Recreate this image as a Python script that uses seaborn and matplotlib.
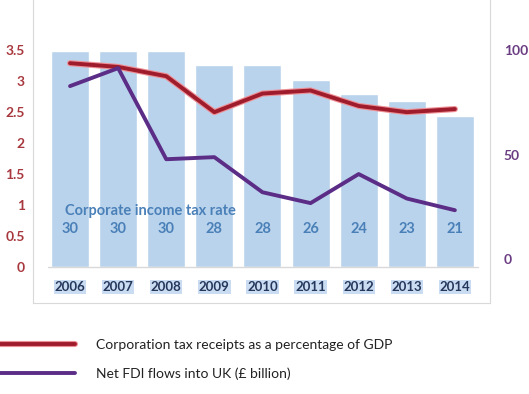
import numpy as np
import pandas as pd
import matplotlib
matplotlib.use('Agg')
import matplotlib.pyplot as plt
import matplotlib.patheffects as pe
import seaborn as sns

years = [2006, 2007, 2008, 2009, 2010, 2011, 2012, 2013, 2014]
tax_rate = [30, 30, 30, 28, 28, 26, 24, 23, 21]
receipts_gdp = [3.29, 3.23, 3.08, 2.5, 2.8, 2.85, 2.6, 2.5, 2.55]
net_fdi = [82.8, 91.4, 47.8, 48.8, 32, 26.8, 40.7, 29, 23.4]
left_ticks = [0, 0.5, 1, 1.5, 2, 2.5, 3, 3.5]
left_labels = ['0', '0.5', '1', '1.5', '2', '2.5', '3', '3.5']
right_ticks = [0, 50, 100]
bar_title = 'Corporate income tax rate'
label_receipts = 'Corporation tax receipts as a percentage of GDP'
label_fdi = 'Net FDI flows into UK (£ billion)'

df = pd.DataFrame({'year': years, 'rate': tax_rate,
                   'receipts': receipts_gdp, 'fdi': net_fdi})

sns.set_style('white')
plt.rcParams['font.family'] = ['Lato', 'DejaVu Sans']

fig = plt.figure(figsize=(5.29, 3.94), dpi=100)
ax = fig.add_axes([33 / 529, 1 - 303 / 394, 457 / 529, 303 / 394])

bar_col = '#BAD3EC'
red = '#9E1C2C'
purple = '#5B2D86'
grey = '#D9D9D9'

sns.barplot(data=df, x='year', y='rate', native_scale=True, width=0.79,
            color=bar_col, saturation=1, ax=ax, zorder=1)
ax.set_xlim(years[0] - 0.77, years[0] + 8.73)
ax.set_ylim(-5, 37.08)
ax.set_yticks([])
ax.set_xticks([])
ax.set_xlabel('')
ax.set_ylabel('')
ax.axhline(0, xmin=0.033, xmax=0.974, color=grey, lw=1, zorder=2)

for y, r in zip(years, tax_rate):
    ax.text(y, 5.3, str(r), ha='center', va='center', fontsize=10.5,
            color='#4A80B8', fontweight='bold')
    ax.text(y, -2.78, str(y), ha='center', va='center', fontsize=9.5,
            color='#25385C', fontweight='bold',
            bbox=dict(boxstyle='square,pad=0.06', fc='#C9DCF1', ec='none'))
ax.text(years[0] - 0.1, 7.8, bar_title, ha='left', va='center',
        fontsize=10.5, color='#4A80B8', fontweight='bold')

for s in ['left', 'right', 'bottom']:
    ax.spines[s].set_color(grey)
ax.spines['top'].set_visible(False)

# left axis: receipts
axl = ax.twinx()
axl.yaxis.tick_left()
sns.lineplot(data=df, x='year', y='receipts', color=red, lw=2.8, ax=axl,
             label=label_receipts, legend=False,
             path_effects=[pe.Stroke(linewidth=4.4, foreground='#EE8F96'), pe.Normal()])
axl.set_ylim(-0.58, 4.31)
axl.set_yticks(left_ticks)
axl.set_yticklabels(left_labels)
axl.tick_params(axis='y', length=0, pad=6, labelsize=10, labelcolor='#A8383E')
for t in axl.get_yticklabels():
    t.set_fontweight('bold')
axl.set_ylabel('')
axl.set_xlabel('')

# right axis: FDI
axr = ax.twinx()
sns.lineplot(data=df, x='year', y='fdi', color=purple, lw=2.8, ax=axr,
             label=label_fdi, legend=False)
axr.set_ylim(-21, 124)
axr.set_yticks(right_ticks)
axr.tick_params(axis='y', length=0, pad=10, labelsize=10, labelcolor='#6A3C82')
for t in axr.get_yticklabels():
    t.set_fontweight('bold')
axr.set_ylabel('')
axr.set_xlabel('')
axr.set_xlim(ax.get_xlim())
axl.set_xlim(ax.get_xlim())
for a in (axl, axr):
    for s in a.spines.values():
        s.set_visible(False)

h1, l1 = axl.get_legend_handles_labels()
h2, l2 = axr.get_legend_handles_labels()
leg = fig.legend(h1 + h2, l1 + l2, loc='center left',
                 bbox_to_anchor=(0.0, 1 - 359.5 / 394), frameon=False,
                 borderaxespad=0, borderpad=0, fontsize=10, handlelength=5.4,
                 handletextpad=1.5, labelspacing=1.2)
for t in leg.get_texts():
    t.set_color('#222222')

fig.savefig('out.png', dpi=100)
